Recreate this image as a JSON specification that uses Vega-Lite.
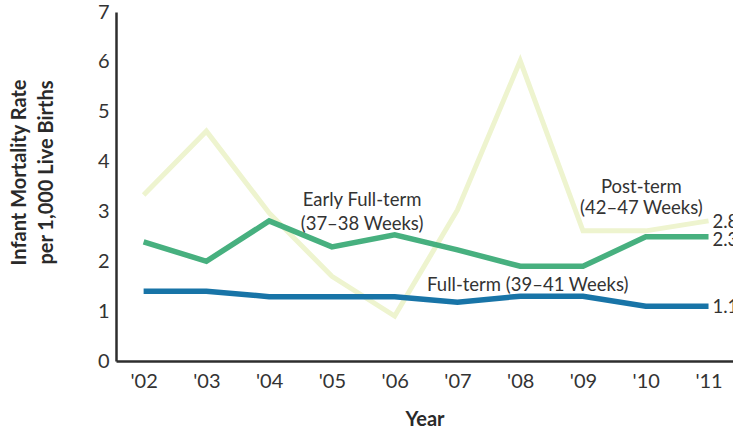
{
  "$schema": "https://vega.github.io/schema/vega-lite/v6.json",
  "width": 617,
  "height": 349,
  "autosize": {"type": "none"},
  "padding": {"left": 116, "top": 12, "right": 0, "bottom": 68},
  "background": "white",
  "config": {
    "view": {"stroke": null},
    "font": "Lato",
    "axis": {"grid": false, "ticks": false, "tickSize": 0, "domainColor": "#2e2e2e", "domainWidth": 2.5, "labelColor": "#333333", "labelFont": "Lato", "labelFontSize": 20, "titleFont": "Lato", "titleFontSize": 20, "titleFontWeight": "bold", "titleColor": "#2a2a2a"}
  },
  "datasets": {
    "rates": [
      {"year": 2002, "series": "Post-term", "value": 3.33},
      {"year": 2003, "series": "Post-term", "value": 4.61},
      {"year": 2004, "series": "Post-term", "value": 2.97},
      {"year": 2005, "series": "Post-term", "value": 1.7},
      {"year": 2006, "series": "Post-term", "value": 0.9},
      {"year": 2007, "series": "Post-term", "value": 3.03},
      {"year": 2008, "series": "Post-term", "value": 6.02},
      {"year": 2009, "series": "Post-term", "value": 2.61},
      {"year": 2010, "series": "Post-term", "value": 2.61},
      {"year": 2011, "series": "Post-term", "value": 2.81},
      {"year": 2002, "series": "Early Full-term", "value": 2.39},
      {"year": 2003, "series": "Early Full-term", "value": 2.0},
      {"year": 2004, "series": "Early Full-term", "value": 2.81},
      {"year": 2005, "series": "Early Full-term", "value": 2.29},
      {"year": 2006, "series": "Early Full-term", "value": 2.53},
      {"year": 2007, "series": "Early Full-term", "value": 2.23},
      {"year": 2008, "series": "Early Full-term", "value": 1.9},
      {"year": 2009, "series": "Early Full-term", "value": 1.9},
      {"year": 2010, "series": "Early Full-term", "value": 2.49},
      {"year": 2011, "series": "Early Full-term", "value": 2.49},
      {"year": 2002, "series": "Full-term", "value": 1.4},
      {"year": 2003, "series": "Full-term", "value": 1.4},
      {"year": 2004, "series": "Full-term", "value": 1.29},
      {"year": 2005, "series": "Full-term", "value": 1.29},
      {"year": 2006, "series": "Full-term", "value": 1.29},
      {"year": 2007, "series": "Full-term", "value": 1.18},
      {"year": 2008, "series": "Full-term", "value": 1.3},
      {"year": 2009, "series": "Full-term", "value": 1.3},
      {"year": 2010, "series": "Full-term", "value": 1.1},
      {"year": 2011, "series": "Full-term", "value": 1.1}
    ],
    "notes": [
      {"year": 2005.48, "value": 3.23, "text": "Early Full-term"},
      {"year": 2005.48, "value": 2.75, "text": "(37–38 Weeks)"},
      {"year": 2008.12, "value": 1.52, "text": "Full-term (39–41 Weeks)"},
      {"year": 2009.93, "value": 3.49, "text": "Post-term"},
      {"year": 2009.93, "value": 3.07, "text": "(42–47 Weeks)"}
    ],
    "ends": [
      {"year": 2011, "value": 2.78, "text": "2.8"},
      {"year": 2011, "value": 2.43, "text": "2.3"},
      {"year": 2011, "value": 1.08, "text": "1.1"}
    ]
  },
  "encoding": {
    "x": {
      "field": "year", "type": "quantitative",
      "scale": {"domain": [2001.56, 2011.39], "nice": false, "zero": false},
      "axis": {"title": "Year", "values": [2002, 2003, 2004, 2005, 2006, 2007, 2008, 2009, 2010, 2011], "labelExpr": "\"'\" + slice(toString(datum.value), 2)", "labelPadding": 10, "labelFlush": false, "titleY": 64, "titleBaseline": "alphabetic"}
    },
    "y": {
      "field": "value", "type": "quantitative",
      "scale": {"domain": [0, 7], "nice": false},
      "axis": {"title": ["Infant Mortality Rate", "per 1,000 Live Births"], "values": [0, 1, 2, 3, 4, 5, 6, 7], "labelPadding": 7, "titleAngle": -90, "titleBaseline": "top", "titleX": -107, "titleY": 160, "titleLineHeight": 27}
    }
  },
  "layer": [
    {
      "data": {"values": [{"v": 7}]},
      "mark": {"type": "rule", "color": "#2e2e2e", "strokeWidth": 2.5},
      "encoding": {"y": {"field": "v", "type": "quantitative"}, "x": {"datum": 2001.56}, "x2": {"datum": 2011.39}}
    },
    {
      "data": {"name": "rates"},
      "transform": [{"filter": "datum.series === 'Post-term'"}],
      "mark": {"type": "line", "color": "#eef4cf", "strokeWidth": 5}
    },
    {
      "data": {"name": "rates"},
      "transform": [{"filter": "datum.series === 'Early Full-term'"}],
      "mark": {"type": "line", "color": "#47b07f", "strokeWidth": 5.5}
    },
    {
      "data": {"name": "rates"},
      "transform": [{"filter": "datum.series === 'Full-term'"}],
      "mark": {"type": "line", "color": "#1874a7", "strokeWidth": 5.5}
    },
    {
      "data": {"name": "notes"},
      "mark": {"type": "text", "fontSize": 18.5, "color": "#333333", "align": "center", "baseline": "middle"},
      "encoding": {"text": {"field": "text"}}
    },
    {
      "data": {"name": "ends"},
      "mark": {"type": "text", "fontSize": 18.5, "color": "#333333", "align": "left", "baseline": "middle", "dx": 4},
      "encoding": {"text": {"field": "text"}}
    }
  ]
}
